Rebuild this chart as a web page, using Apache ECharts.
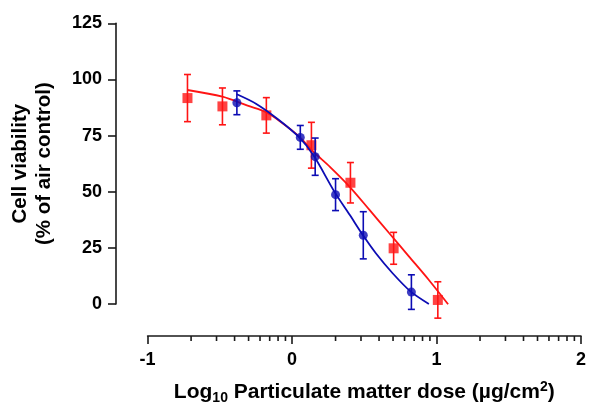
<!DOCTYPE html>
<html><head><meta charset="utf-8">
<script src="https://cdn.jsdelivr.net/npm/echarts@6/dist/echarts.min.js"></script>
<style>html,body{margin:0;padding:0;background:#fff}#c{width:589px;height:410px}</style>
</head><body><div id="c"></div>
<script>
// Red squares: [log10 dose, mean viability, error]
const redPoints = [
  [-0.724, 91.7, 10.5],
  [-0.482, 88.0, 8.2],
  [-0.178, 84.0, 7.9],
  [0.134, 70.7, 10.2],
  [0.404, 54.0, 9.0],
  [0.703, 24.8, 7.1],
  [1.009, 1.8, 8.1]
];
// Blue circles
const bluePoints = [
  [-0.382, 89.6, 5.3],
  [0.057, 74.2, 5.3],
  [0.160, 65.6, 8.3],
  [0.301, 48.7, 7.1],
  [0.493, 30.6, 10.5],
  [0.826, 5.3, 7.7]
];
// Fitted curves
const redCurve = [
  [-0.724, 95.3], [-0.482, 92.3], [-0.308, 88.3], [-0.18, 85.4], [-0.08, 81.2],
  [0.045, 74.8], [0.148, 67.8], [0.262, 61.1], [0.399, 52.2], [0.536, 41.9],
  [0.673, 31.5], [0.81, 21.1], [0.947, 10.7], [1.08, -0.1]
];
const blueCurve = [
  [-0.382, 93.4], [-0.25, 89.2], [-0.1, 82.4], [0.045, 74.5], [0.148, 66.2],
  [0.297, 49.6], [0.4, 39.6], [0.49, 30.7], [0.58, 22.6], [0.696, 13.7],
  [0.822, 5.5], [0.947, 0.0]
];
const xTickLabels = ['-1', '0', '1', '2'];
const yTickLabels = ['0', '25', '50', '75', '100', '125'];
// log-spaced minor tick positions between decades
const minorTicks = [];
[-1, 0, 1].forEach(d => { for (let k = 2; k <= 9; k++) minorTicks.push([d + Math.log10(k)]); });

const RED = '#ff1414', BLUE = '#0c0cb4', AXIS = '#1a1a1a';
const FONT = '"Liberation Sans", Arial, sans-serif';
const X_OFF = 32;

function errBar(color) {
  return function (params, api) {
    const x = api.value(0), y = api.value(1), e = api.value(2);
    const t = api.coord([x, y + e]), b = api.coord([x, y - e]);
    const w = 3.5, s = { stroke: color, lineWidth: 1.6 };
    return { type: 'group', children: [
      { type: 'line', shape: { x1: t[0], y1: t[1], x2: b[0], y2: b[1] }, style: s },
      { type: 'line', shape: { x1: t[0] - w, y1: t[1], x2: t[0] + w, y2: t[1] }, style: s },
      { type: 'line', shape: { x1: b[0] - w, y1: b[1], x2: b[0] + w, y2: b[1] }, style: s }
    ]};
  };
}

const chart = echarts.init(document.getElementById('c'), null, { renderer: 'canvas' });
chart.setOption({
  animation: false,
  backgroundColor: '#fff',
  grid: { left: 146.3, right: 4.7, top: 23.3, bottom: 106 },
  xAxis: {
    type: 'value', min: -1, max: 2, interval: 1, offset: X_OFF,
    splitLine: { show: false },
    axisLine: { show: true, onZero: false, lineStyle: { color: AXIS, width: 1.6 } },
    axisTick: { show: true, inside: false, length: 8, lineStyle: { color: AXIS, width: 1.6 } },
    axisLabel: { margin: 15, fontFamily: FONT, fontWeight: 'bold', fontSize: 18, color: '#000',
      formatter: v => xTickLabels[Math.round(v) + 1] },
    name: '{n|Log}{s|10}{n| Particulate matter dose (µg/cm}{p|2}{n|)}',
    nameLocation: 'middle', nameGap: 43,
    nameTextStyle: {
      rich: {
        n: { fontFamily: FONT, fontWeight: 'bold', fontSize: 21, color: '#000' },
        s: { fontFamily: FONT, fontWeight: 'bold', fontSize: 14, color: '#000', padding: [12, 0, 0, 0] },
        p: { fontFamily: FONT, fontWeight: 'bold', fontSize: 14, color: '#000', padding: [0, 0, 9, 0] }
      }
    }
  },
  yAxis: {
    type: 'value', min: 0, max: 125, interval: 25, offset: 31.6,
    splitLine: { show: false },
    axisLine: { show: true, onZero: false, lineStyle: { color: AXIS, width: 1.6 } },
    axisTick: { show: true, inside: false, length: 8, lineStyle: { color: AXIS, width: 1.6 } },
    axisLabel: { margin: 14, fontFamily: FONT, fontWeight: 'bold', fontSize: 18, color: '#000',
      formatter: v => yTickLabels[Math.round(v / 25)] },
    name: 'Cell viability\n(% of air control)',
    nameLocation: 'middle', nameGap: 60,
    nameTextStyle: { fontFamily: FONT, fontWeight: 'bold', fontSize: 20.5, color: '#000', lineHeight: 24 }
  },
  series: [
    { type: 'custom', data: minorTicks, clip: false, silent: true,
      encode: { x: 0 },
      renderItem: function (params, api) {
        const p = api.coord([api.value(0), 0]);
        return { type: 'line', shape: { x1: p[0], y1: p[1] + X_OFF, x2: p[0], y2: p[1] + X_OFF + 5 },
          style: { stroke: AXIS, lineWidth: 1.6 } };
      } },
    { type: 'line', data: redCurve, smooth: 0.3, showSymbol: false, clip: false,
      lineStyle: { color: RED, width: 1.8 }, z: 2 },
    { type: 'custom', data: redPoints, clip: false, renderItem: errBar(RED), encode: { x: 0, y: 1 }, z: 3 },
    { type: 'scatter', data: redPoints.map(p => [p[0], p[1]]), symbol: 'rect', symbolSize: 10,
      itemStyle: { color: RED }, z: 4 },
    { type: 'line', data: blueCurve, smooth: 0.3, showSymbol: false, clip: false,
      lineStyle: { color: BLUE, width: 1.8 }, z: 5 },
    { type: 'custom', data: bluePoints, clip: false, renderItem: errBar(BLUE), encode: { x: 0, y: 1 }, z: 6 },
    { type: 'scatter', data: bluePoints.map(p => [p[0], p[1]]), symbol: 'circle', symbolSize: 9,
      itemStyle: { color: BLUE }, z: 7 }
  ]
});
</script></body></html>
